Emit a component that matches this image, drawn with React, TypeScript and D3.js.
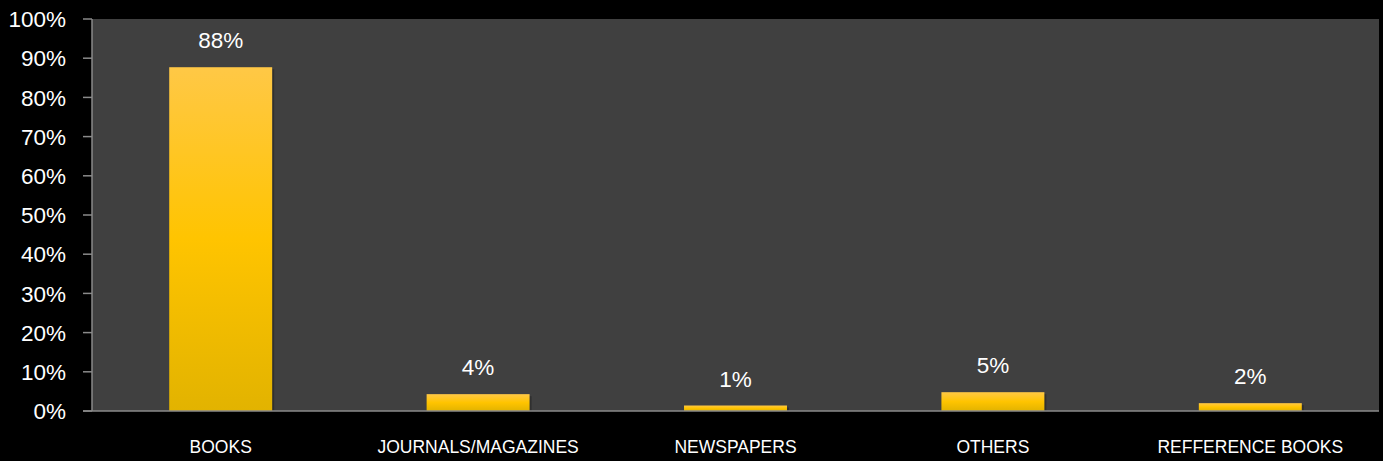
import React from "react";
import * as d3 from "d3";

const categories = ["BOOKS", "JOURNALS/MAGAZINES", "NEWSPAPERS", "OTHERS", "REFFERENCE BOOKS"];
const values = [87.7, 4.3, 1.4, 4.8, 2.0];
const yTicks = [0, 10, 20, 30, 40, 50, 60, 70, 80, 90, 100];

const W = 1383;
const H = 461;
const margin = { left: 92, right: 4, top: 19, bottom: 50 };

export default function App() {
  const plotW = W - margin.left - margin.right;
  const plotH = H - margin.top - margin.bottom;
  const x = d3.scaleBand<string>().domain(categories).range([0, plotW]).paddingInner(0.6).paddingOuter(0.3);
  const y = d3.scaleLinear().domain([0, 100]).range([plotH, 0]);
  const font = "'Liberation Sans', Arial, sans-serif";
  return (
    <svg width={W} height={H} style={{ position: "absolute", left: 0, top: 0, background: "#000" }}>
      <defs>
        <linearGradient id="barGrad" x1="0" y1="0" x2="0" y2="1">
          <stop offset="0%" stopColor="#FFC846" />
          <stop offset="50%" stopColor="#FFC400" />
          <stop offset="100%" stopColor="#E2B300" />
        </linearGradient>
      </defs>
      <rect x={0} y={0} width={W} height={H} fill="#000" />
      <g transform={`translate(${margin.left},${margin.top})`}>
        <rect x={0} y={0} width={plotW} height={plotH} fill="#404040" />
        {values.map((v, i) => {
          const c = categories[i];
          const bx = x(c)!;
          return (
            <g key={c}>
              <rect x={bx + 2} y={y(v) + 2} width={x.bandwidth()} height={plotH - y(v)} fill="#000" opacity={0.25} />
              <rect x={bx} y={y(v)} width={x.bandwidth()} height={plotH - y(v)} fill="url(#barGrad)" />
              <text
                x={bx + x.bandwidth() / 2}
                y={y(v) - 19}
                textAnchor="middle"
                fill="#fff"
                fontFamily={font}
                fontSize={22.5}
              >
                {Math.round(v)}%
              </text>
              <text
                x={bx + x.bandwidth() / 2}
                y={plotH + 42}
                textAnchor="middle"
                fill="#fff"
                fontFamily={font}
                fontSize={17.5}
              >
                {c}
              </text>
            </g>
          );
        })}
        <line x1={0} x2={0} y1={0} y2={plotH} stroke="#8a8a8a" strokeWidth={1.5} />
        <line x1={-9} x2={plotW} y1={plotH} y2={plotH} stroke="#8a8a8a" strokeWidth={1.5} />
        {yTicks.map((t) => (
          <g key={t}>
            <line x1={-9} x2={0} y1={y(t)} y2={y(t)} stroke="#8a8a8a" strokeWidth={1.5} />
            <text
              x={-26}
              y={y(t)}
              dy="0.36em"
              textAnchor="end"
              fill="#fff"
              fontFamily={font}
              fontSize={22.5}
            >
              {t}%
            </text>
          </g>
        ))}
      </g>
    </svg>
  );
}
